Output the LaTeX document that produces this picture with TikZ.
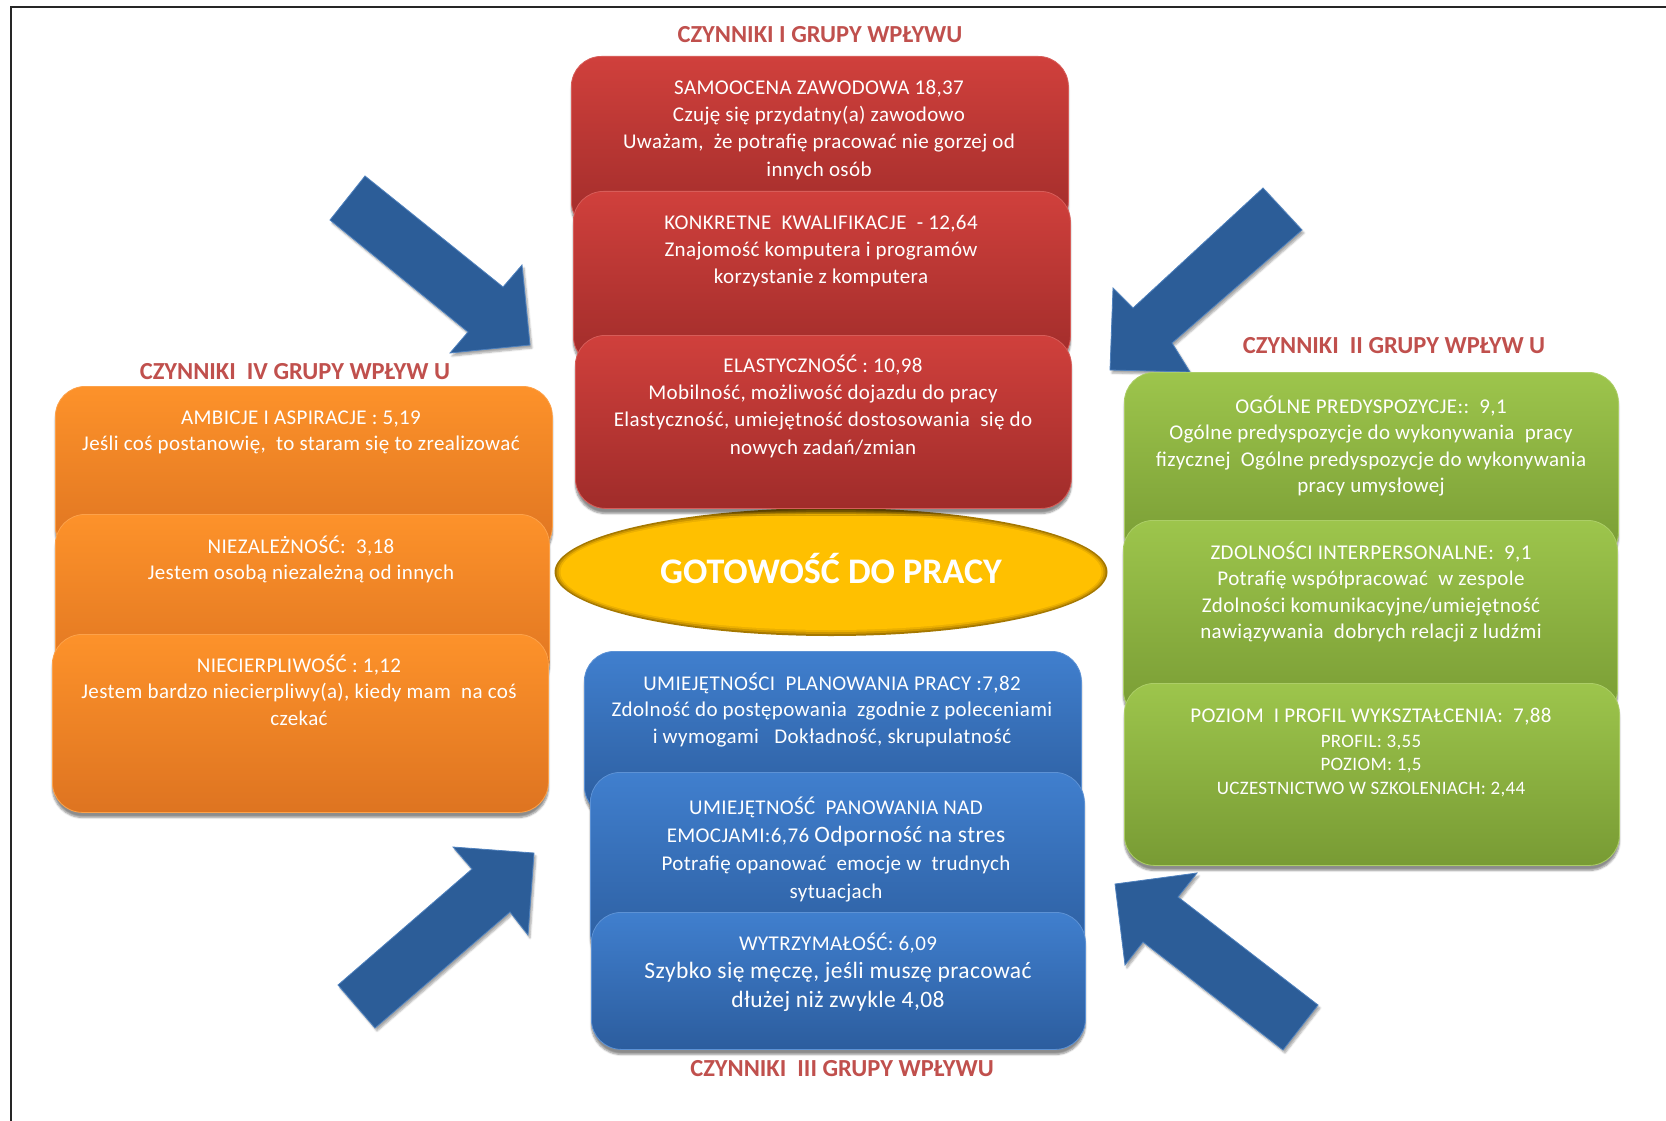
\documentclass[tikz,border=0pt]{standalone}
\usepackage{fontspec}
\setmainfont{Carlito}[LetterSpace=1.8]
\newfontfamily\titlefont{Carlito}
\usetikzlibrary{shapes.geometric,shadows.blur}
\definecolor{titred}{RGB}{192,80,77}
\definecolor{redtop}{RGB}{208,64,60}
\definecolor{redbot}{RGB}{160,44,42}
\definecolor{orgtop}{RGB}{253,146,42}
\definecolor{orgbot}{RGB}{222,116,33}
\definecolor{grntop}{RGB}{157,197,76}
\definecolor{grnbot}{RGB}{120,155,52}
\definecolor{blutop}{RGB}{64,127,206}
\definecolor{blubot}{RGB}{44,93,158}
\definecolor{arrowblue}{RGB}{44,93,152}
\definecolor{arrowedge}{RGB}{79,129,189}
\definecolor{gold}{RGB}{255,192,0}
\newcommand\topstrut{\rule{0pt}{20pt}}
\tikzset{
  box/.style={rectangle, rounded corners=30pt, anchor=north west, inner sep=0pt,
    blur shadow={shadow xshift=0pt, shadow yshift=-5pt, shadow blur steps=6, shadow opacity=45}},
  redbox/.style={box, top color=redtop, bottom color=redbot, draw=redtop!85!white, line width=0.8pt},
  orgbox/.style={box, top color=orgtop, bottom color=orgbot, draw=orgtop!85!white, line width=0.8pt},
  grnbox/.style={box, top color=grntop, bottom color=grnbot, draw=grntop!85!white, line width=0.8pt},
  blubox/.style={box, top color=blutop, bottom color=blubot, draw=blutop!85!white, line width=0.8pt},
  txt/.style={text=white, align=center, inner sep=0pt, anchor=north, font=\fontsize{21}{26.5}\selectfont},
  redtxt/.style={txt, font=\fontsize{21}{27.3}\selectfont},
  grptitle/.style={text=titred, anchor=base, inner sep=0pt, font=\titlefont\bfseries\fontsize{24.5}{28}\selectfont},
  bigarrow/.style={fill=arrowblue, draw=arrowedge, line width=0.8pt, line join=miter,
    blur shadow={shadow xshift=2pt, shadow yshift=-3pt, shadow blur steps=5, shadow opacity=35}},
  frameline/.style={draw=black!85, line width=2.5pt},
}
\begin{document}
\begin{tikzpicture}[x=1pt,y=-1pt]
\useasboundingbox (0,0) rectangle (1666,1121);
% frame
\coordinate (fa) at (11,1121);
\coordinate (fb) at (11,7);
\coordinate (fc) at (1666,7);
\draw[frameline] (fa) -- (fb) -- (fc);

% arrows
\path[bigarrow] (365,176) -- (503,287) -- (522,265) -- (530,345) -- (450,353) -- (468,332) -- (330,220) -- cycle;
\path[bigarrow] (1263,188) -- (1133,308) -- (1113,288) -- (1110,370) -- (1190,372) -- (1172,343) -- (1302,230) -- cycle;
\path[bigarrow] (338,985) -- (472,869) -- (453,847) -- (534,853) -- (528,935) -- (510,912) -- (375,1028) -- cycle;
\path[bigarrow] (1115,884) -- (1197,873) -- (1178,897) -- (1318,1005) -- (1283,1050) -- (1143,942) -- (1125,965) -- cycle;

% central ellipse
\node[ellipse, fill={rgb,255:red,165;green,120;blue,0}, minimum width=553pt, minimum height=128pt, inner sep=0pt] (e0) at (831,572) {};
\node[ellipse, fill={rgb,255:red,205;green,150;blue,0}, minimum width=549pt, minimum height=124pt, inner sep=0pt] (e1) at (831,572) {};
\node[ellipse, fill={rgb,255:red,236;green,176;blue,0}, minimum width=545pt, minimum height=120pt, inner sep=0pt] (e2) at (831,572) {};
\node[ellipse, fill=gold, minimum width=541pt, minimum height=116pt, inner sep=0pt] (center) at (831,572) {};
\node[text=white, inner sep=0pt, font=\titlefont\bfseries\fontsize{36}{40}\selectfont] (centertext) at (831,569) {GOTOWOŚĆ DO PRACY};

% red group (I)
\node[redbox, minimum width=497pt, minimum height=175pt] (r1) at (571,56) {};
\node[redbox, minimum width=497pt, minimum height=175pt] (r2) at (573,191) {};
\node[redbox, minimum width=496pt, minimum height=173pt] (r3) at (575,335) {};
\node[redtxt] (r1t) at (819,74) {\topstrut SAMOOCENA ZAWODOWA 18,37\\Czuję się przydatny(a) zawodowo\\Uważam,\ \ że potrafię pracować nie gorzej od\\innych osób};
\node[redtxt] (r2t) at (821,209) {\topstrut KONKRETNE\ \ KWALIFIKACJE\ \ - 12,64\\Znajomość komputera i programów\\korzystanie z komputera};
\node[redtxt] (r3t) at (823,352) {\topstrut ELASTYCZNOŚĆ : 10,98\\Mobilność, możliwość dojazdu do pracy\\Elastyczność, umiejętność dostosowania\ \ się do\\nowych zadań/zmian};

% orange group (IV)
\node[orgbox, minimum width=497pt, minimum height=170pt] (o1) at (55,386) {};
\node[orgbox, minimum width=494pt, minimum height=176pt] (o2) at (55,514) {};
\node[orgbox, minimum width=496pt, minimum height=178pt] (o3) at (52,634) {};
\node[txt] (o1t) at (301,404) {\topstrut AMBICJE I ASPIRACJE : 5,19\\Jeśli coś postanowię,\ \ to staram się to zrealizować};
\node[txt] (o2t) at (301,533) {\topstrut NIEZALEŻNOŚĆ:\ \ 3,18\\Jestem osobą niezależną od innych};
\node[txt] (o3t) at (299,652) {\topstrut NIECIERPLIWOŚĆ : 1,12\\Jestem bardzo niecierpliwy(a), kiedy mam\ \ na coś\\czekać};

% green group (II)
\node[grnbox, minimum width=494pt, minimum height=190pt] (g1) at (1124,372) {};
\node[grnbox, minimum width=494pt, minimum height=200pt] (g2) at (1123,520) {};
\node[grnbox, minimum width=495pt, minimum height=182pt] (g3) at (1124,683) {};
\node[txt] (g1t) at (1371,393) {\topstrut OGÓLNE PREDYSPOZYCJE::\ \ 9,1\\Ogólne predyspozycje do wykonywania\ \ pracy\\fizycznej\ \ Ogólne predyspozycje do wykonywania\\pracy umysłowej};
\node[txt] (g2t) at (1371,539) {\topstrut ZDOLNOŚCI INTERPERSONALNE:\ \ 9,1\\Potrafię współpracować\ \ w zespole\\Zdolności komunikacyjne/umiejętność\\nawiązywania\ \ dobrych relacji z ludźmi};
\node[txt, font=\fontsize{19}{23.5}\selectfont] (g3t) at (1371,702) {\topstrut{\fontsize{21}{26}\selectfont POZIOM\ \ I PROFIL WYKSZTAŁCENIA:\ \ 7,88}\\[1.5pt]PROFIL: 3,55\\POZIOM: 1,5\\UCZESTNICTWO W SZKOLENIACH: 2,44};

% blue group (III)
\node[blubox, minimum width=497pt, minimum height=165pt] (b1) at (584,651) {};
\node[blubox, minimum width=494pt, minimum height=190pt] (b2) at (590,772) {};
\node[blubox, minimum width=494pt, minimum height=137pt] (b3) at (591,912) {};
\node[txt] (b1t) at (832,670) {\topstrut UMIEJĘTNOŚCI\ \ PLANOWANIA PRACY :7,82\\Zdolność do postępowania\ \ zgodnie z poleceniami\\i wymogami\ \ \ Dokładność, skrupulatność};
\node[txt, font=\fontsize{21}{28}\selectfont] (b2t) at (836,794) {\topstrut UMIEJĘTNOŚĆ\ \ PANOWANIA NAD\\EMOCJAMI:6,76 {\fontsize{23.5}{28}\selectfont Odporność na stres}\\Potrafię opanować\ \ emocje w\ \ trudnych\\sytuacjach};
\node[txt, font=\fontsize{21}{28.5}\selectfont] (b3t) at (838,930) {\topstrut WYTRZYMAŁOŚĆ: 6,09\\{\fontsize{23.5}{28.5}\selectfont Szybko się męczę, jeśli muszę pracować}\\{\fontsize{23.5}{28.5}\selectfont dłużej niż zwykle 4,08}};

% group titles
\node[grptitle] (t1) at (820,43) {CZYNNIKI I GRUPY WPŁYWU};
\node[grptitle] (t2) at (1394,353) {CZYNNIKI\ \ II GRUPY WPŁYW U};
\node[grptitle] (t4) at (295,379) {CZYNNIKI\ \ IV GRUPY WPŁYW U};
\node[grptitle] (t3) at (842,1076) {CZYNNIKI\ \ III GRUPY WPŁYWU};
\end{tikzpicture}
\end{document}
